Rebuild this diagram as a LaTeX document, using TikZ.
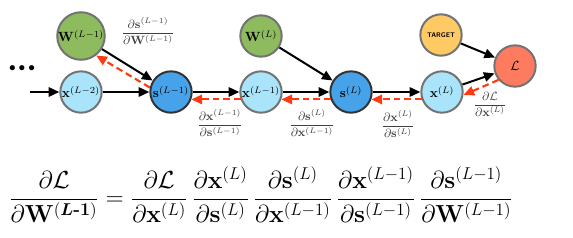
\documentclass[tikz,border=0pt]{standalone}
\usepackage{amsmath}
\usepackage{graphicx}
\usepackage{xcolor}
\usetikzlibrary{arrows.meta}

\definecolor{wgreen}{HTML}{8EBB5D}
\definecolor{xcyan}{HTML}{A9E4FA}
\definecolor{sblue}{HTML}{46A2E9}
\definecolor{tgold}{HTML}{FFC964}
\definecolor{lsalmon}{HTML}{FF7B60}
\definecolor{bred}{HTML}{FF3A12}

\begin{document}
\begin{tikzpicture}[
    x=0.75pt, y=-0.75pt,
    unit/.style={
        circle,
        draw=black!55,
        line width=1.5pt,
        minimum size=31pt,
        inner sep=0pt
    },
    weight/.style={unit, fill=wgreen},
    act/.style={unit, fill=xcyan},
    sum/.style={unit, fill=sblue, draw=black!80},
    fwd/.style={-{Triangle[length=8pt,width=7pt]}, line width=1.5pt},
    bwd/.style={-{Triangle[length=8pt,width=7pt]}, line width=1.6pt, draw=bred, dash pattern=on 5pt off 3pt},
    dlabel/.style={font=\small, text=black!75, inner sep=1pt}
]
\useasboundingbox (0,0) rectangle (573,237);

% layer L-1
\node[weight] (wLm1) at (81,36) {$\mathbf{W}^{(L-1)}$};
\node[act] (xLm2) at (81,92) {$\mathbf{x}^{(L-2)}$};
\node[sum] (sLm1) at (171,92) {$\mathbf{s}^{(L-1)}$};
\node (dots) at (22,69) {$\bullet\bullet\bullet$};
\coordinate (in) at (30,92);

% layer L
\node[act] (xLm1) at (261,92) {$\mathbf{x}^{(L-1)}$};
\node[weight] (wL) at (261,36) {$\mathbf{W}^{(L)}$};
\node[sum] (sL) at (351,92) {$\mathbf{s}^{(L)}$};

% output and loss
\node[act] (xL) at (442,92) {$\mathbf{x}^{(L)}$};
\node[unit, fill=tgold] (target) at (441,35) {\fontsize{5}{6}\selectfont\sffamily\bfseries TARGET};
\node[unit, fill=lsalmon] (loss) at (515,66) {$\mathcal{L}$};

% forward pass
\draw[fwd] (in) -- (xLm2);
\draw[fwd] (xLm2) -- (sLm1);
\draw[fwd] (wLm1.-32) -- (sLm1.148);
\draw[fwd] (sLm1) -- (xLm1);
\draw[fwd] (xLm1) -- (sL);
\draw[fwd] (wL.-32) -- (sL.148);
\draw[fwd] (sL) -- (xL);
\draw[fwd] (xL.20) -- (loss.200);
\draw[fwd] (target.-23) -- (loss.157);

% backward pass
\draw[bwd] (sLm1.168) -- (wLm1.-52);
\draw[bwd] (xLm1.200) -- (sLm1.-20);
\draw[bwd] (sL.200) -- (xLm1.-20);
\draw[bwd] (xL.200) -- (sL.-20);
\draw[bwd] (loss.220) -- (xL.-8);

% local gradients
\node[dlabel] (g1) at (148,31) {$\dfrac{\partial\mathbf{s}^{(L-1)}}{\partial\mathbf{W}^{(L-1)}}$};
\node[dlabel] (g2) at (220,123) {$\dfrac{\partial\mathbf{x}^{(L-1)}}{\partial\mathbf{s}^{(L-1)}}$};
\node[dlabel] (g3) at (312,123) {$\dfrac{\partial\mathbf{s}^{(L)}}{\partial\mathbf{x}^{(L-1)}}$};
\node[dlabel] (g4) at (398,124) {$\dfrac{\partial\mathbf{x}^{(L)}}{\partial\mathbf{s}^{(L)}}$};
\node[dlabel] (g5) at (490,104) {$\dfrac{\partial\mathcal{L}}{\partial\mathbf{x}^{(L)}}$};

% chain rule
\node[font=\fontsize{18}{21}\selectfont] (chain) at (261,195) {\scalebox{1.07}{$\displaystyle
  \frac{\partial\mathcal{L}}{\partial\mathbf{W}^{(\boldsymbol{L}\textbf{-1})}} =
  \frac{\partial\mathcal{L}}{\partial\mathbf{x}^{(L)}}\,
  \frac{\partial\mathbf{x}^{(L)}}{\partial\mathbf{s}^{(L)}}\,
  \frac{\partial\mathbf{s}^{(L)}}{\partial\mathbf{x}^{(L-1)}}\,
  \frac{\partial\mathbf{x}^{(L-1)}}{\partial\mathbf{s}^{(L-1)}}\,
  \frac{\partial\mathbf{s}^{(L-1)}}{\partial\mathbf{W}^{(L-1)}}$}};
\end{tikzpicture}
\end{document}
